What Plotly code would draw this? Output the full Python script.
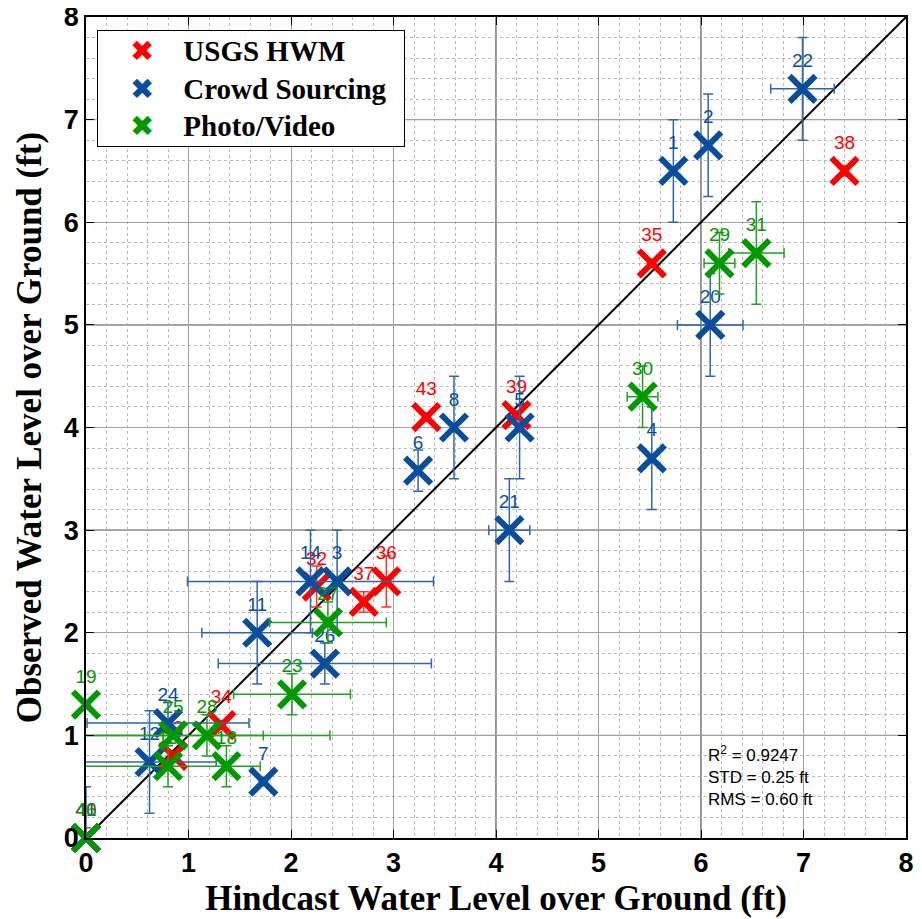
import plotly.graph_objects as go

# ---------------- data ----------------
usgs_id = ["38", "35", "43", "39", "36", "37", "32", "34", "33", "40"]
usgs_x = [7.40, 5.52, 3.32, 4.20, 2.93, 2.71, 2.25, 1.32, 0.85, 0.0]
usgs_y = [6.50, 5.60, 4.10, 4.12, 2.50, 2.30, 2.45, 1.10, 0.80, 0.0]
usgs_xerr = [0, 0, 0, 0, 0, 0, 0, 0, 0, 0]
usgs_yerr = [0.05, 0, 0, 0, 0.25, 0.1, 0.2, 0, 0, 0.1]

crowd_id = ["22", "1", "2", "20", "8", "5", "6", "21", "4", "14", "3", "11", "26", "24", "12", "7", "41"]
crowd_x = [6.99, 5.73, 6.07, 6.09, 3.59, 4.23, 3.24, 4.13, 5.52, 2.19, 2.45, 1.67, 2.33, 0.80, 0.62, 1.73, 0.0]
crowd_y = [7.30, 6.50, 6.75, 5.00, 4.00, 4.00, 3.58, 3.00, 3.70, 2.50, 2.50, 2.00, 1.70, 1.12, 0.74, 0.55, 0.0]
crowd_xerr = [0.31, 0, 0, 0.32, 0, 0, 0, 0.2, 0, 1.2, 0, 0.54, 1.04, 0.79, 0.65, 0, 0]
crowd_yerr = [0.5, 0.5, 0.5, 0.5, 0.5, 0.5, 0.2, 0.5, 0.5, 0.5, 0.5, 0.5, 0.2, 0.2, 0.5, 0, 0.5]

photo_id = ["31", "29", "30", "27", "23", "28", "25", "18", "16", "19", "46"]
photo_x = [6.54, 6.18, 5.43, 2.36, 2.01, 1.18, 0.85, 1.37, 0.80, 0.0, 0.0]
photo_y = [5.70, 5.60, 4.30, 2.10, 1.40, 1.00, 1.00, 0.70, 0.70, 1.30, 0.0]
photo_xerr = [0.27, 0.15, 0.15, 0.57, 0.57, 1.2, 0.88, 0, 0.9, 0, 0]
photo_yerr = [0.5, 0.3, 0.3, 0.2, 0.2, 0.2, 0, 0.2, 0.2, 0, 0]

series_names = ["USGS HWM", "Crowd Sourcing", "Photo/Video"]
axis_ticks = [0, 1, 2, 3, 4, 5, 6, 7, 8]
dark_grid_x = [1, 4, 6]
dark_grid_y = [1, 3, 5, 7]
one_to_one = [0, 8]

stats_text = "R<sup>2</sup> = 0.9247<br>STD = 0.25 ft<br>RMS = 0.60 ft"

RED = "#FF0000"
BLUE = "#0A4E9B"
GREEN = "#009A00"
colors = [RED, BLUE, GREEN]

fig = go.Figure()

# 1:1 line
fig.add_trace(go.Scatter(x=one_to_one, y=one_to_one, mode="lines",
                         line=dict(color="black", width=2), showlegend=False,
                         hoverinfo="skip"))


def add_group(name, ids, xs, ys, xe, ye, color, ebcolor):
    fig.add_trace(go.Scatter(
        x=xs, y=ys, mode="markers+text", name=name, text=ids,
        textposition="top center", cliponaxis=False, showlegend=False,
        textfont=dict(family="Liberation Sans", size=19, color=color),
        marker=dict(symbol="x-thin", size=26, color=color,
                    line=dict(color=color, width=6)),
        error_x=dict(type="data", array=xe, visible=True, color=ebcolor,
                     thickness=1.5, width=5),
        error_y=dict(type="data", array=ye, visible=True, color=ebcolor,
                     thickness=1.5, width=5),
    ))


add_group(series_names[0], usgs_id, usgs_x, usgs_y, usgs_xerr, usgs_yerr, RED, "#FF3030")
add_group(series_names[1], crowd_id, crowd_x, crowd_y, crowd_xerr, crowd_yerr, BLUE, "#2F66AC")
add_group(series_names[2], photo_id, photo_x, photo_y, photo_xerr, photo_yerr, GREEN, "#22A022")

shapes = []
for v in dark_grid_x:
    shapes.append(dict(type="line", xref="x", yref="paper", x0=v, x1=v, y0=0, y1=1,
                       line=dict(color="#222", width=1), layer="below"))
for v in dark_grid_y:
    shapes.append(dict(type="line", xref="paper", yref="y", x0=0, x1=1, y0=v, y1=v,
                       line=dict(color="#222", width=1), layer="below"))

axis_common = dict(
    range=[0, 8], tickvals=axis_ticks, ticktext=[str(t) for t in axis_ticks],
    showgrid=True, gridcolor="#a0a0a0", gridwidth=1,
    minor=dict(dtick=0.2, showgrid=True, gridcolor="#b8b8b8", griddash="dot",
               gridwidth=1),
    showline=True, linecolor="black", linewidth=1.5, mirror="ticks",
    ticks="inside", ticklen=8, tickcolor="black",
    tickfont=dict(family="Liberation Sans", size=27, color="black", weight="bold"),
    zeroline=False, automargin=False, ticklabeloverflow="allow",
)

# legend built as one boxed text block (series names + coloured X symbols)
nb = "&nbsp;"
legend_lines = []
for i, (nm, c) in enumerate(zip(series_names, colors)):
    trail = nb * 2 if i == 1 else ""
    legend_lines.append(
        nb * 4 + f"<span style='color:{c};font-family:DejaVu Sans'>\u2716</span>"
        + nb * 4 + nm + trail)
legend_text = "<br>".join(legend_lines)

fig.update_layout(
    width=914, height=911,
    margin=dict(l=78, r=16, t=9, b=81),
    paper_bgcolor="white", plot_bgcolor="white",
    xaxis=dict(**axis_common,
               title=dict(text="Hindcast Water Level over Ground (ft)", standoff=8,
                          font=dict(family="Liberation Serif", size=35, color="black",
                                    weight="bold"))),
    yaxis=dict(**axis_common,
               title=dict(text="Observed Water Level over Ground (ft)", standoff=12,
                          font=dict(family="Liberation Serif", size=35, color="black",
                                    weight="bold"))),
    showlegend=False,
    shapes=shapes,
    annotations=[
        dict(x=6.05, y=0.95, xref="x", yref="y", xanchor="left",
             yanchor="top", text=stats_text, showarrow=False, align="left",
             font=dict(family="Liberation Sans", size=17, color="black")),
        dict(x=0.0134, y=0.984, xref="paper", yref="paper", xanchor="left",
             yanchor="top", text=legend_text, showarrow=False, align="left",
             bgcolor="white", bordercolor="black", borderwidth=1, borderpad=3,
             font=dict(family="Liberation Serif", size=29, color="black",
                       weight="bold")),
    ],
)

fig.write_html("out.html")
